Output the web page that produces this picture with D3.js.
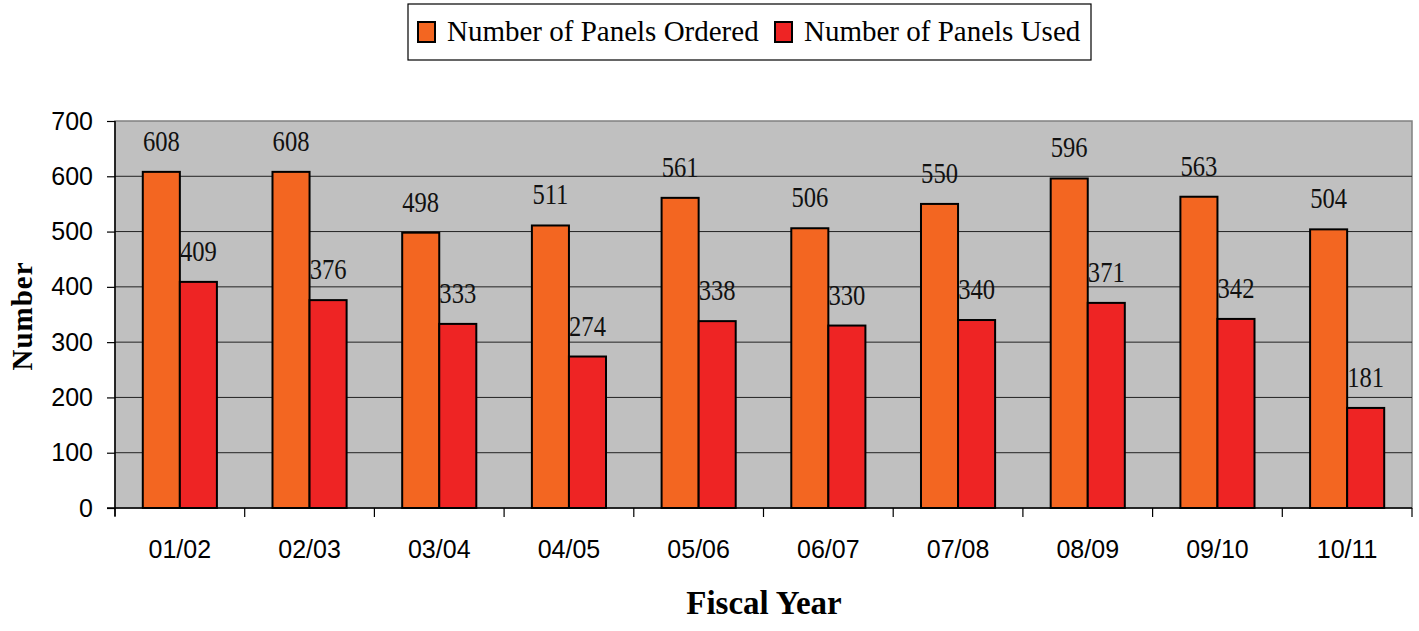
<!DOCTYPE html>
<html>
<head>
<meta charset="utf-8">
<script src="https://cdn.jsdelivr.net/npm/d3@7"></script>
<style>
  body { margin: 0; background: #fff; }
  svg { display: block; }
</style>
</head>
<body>
<svg width="1419" height="631" viewBox="0 0 1419 631"></svg>
<script>
const years = ["01/02", "02/03", "03/04", "04/05", "05/06", "06/07", "07/08", "08/09", "09/10", "10/11"];
const ordered = [608, 608, 498, 511, 561, 506, 550, 596, 563, 504];
const used = [409, 376, 333, 274, 338, 330, 340, 371, 342, 181];
const seriesNames = ["Number of Panels Ordered", "Number of Panels Used"];
const seriesColors = ["#f36621", "#ee2424"];
const yTicks = [0, 100, 200, 300, 400, 500, 600, 700];

const svg = d3.select("svg");
const plotLeft = 115, plotRight = 1412, plotTop = 121, plotBottom = 508;

const x0 = d3.scaleBand().domain(years).range([plotLeft, plotRight]).padding(0);
const x1 = d3.scaleBand().domain([0, 1]).range([0, x0.bandwidth()]).paddingInner(0).paddingOuter(0.75);
const y = d3.scaleLinear().domain([0, 700]).range([plotBottom, plotTop]);

// plot background
svg.append("rect")
    .attr("x", plotLeft).attr("y", plotTop)
    .attr("width", plotRight - plotLeft).attr("height", plotBottom - plotTop)
    .attr("fill", "#c0c0c0")
    .attr("stroke", "#808080").attr("stroke-width", 1.5);

// gridlines
svg.append("g").selectAll("line")
    .data(yTicks.filter(d => d > 0 && d < 700))
    .enter().append("line")
    .attr("x1", plotLeft).attr("x2", plotRight)
    .attr("y1", d => y(d)).attr("y2", d => y(d))
    .attr("stroke", "#222").attr("stroke-width", 1);

// bars
const rows = years.map((yr, i) => ({ year: yr, values: [ordered[i], used[i]] }));
const groups = svg.append("g").selectAll("g")
    .data(rows).enter().append("g")
    .attr("transform", d => `translate(${x0(d.year)},0)`);

groups.selectAll("rect")
    .data(d => d.values.map((v, k) => ({ k, v })))
    .enter().append("rect")
    .attr("x", d => x1(d.k))
    .attr("y", d => y(d.v))
    .attr("width", x1.bandwidth())
    .attr("height", d => y(0) - y(d.v))
    .attr("fill", d => seriesColors[d.k])
    .attr("stroke", "#000").attr("stroke-width", 2);

groups.selectAll("text")
    .data(d => d.values.map((v, k) => ({ k, v })))
    .enter().append("text")
    .attr("transform", d => `translate(${x1(d.k) + x1.bandwidth() / 2},${y(d.v) - 21}) scale(0.82,1)`)
    .attr("text-anchor", "middle")
    .style("font-family", "'Liberation Serif', 'Times New Roman', serif")
    .style("font-size", "30px")
    .attr("fill", "#111")
    .text(d => d.v);

// y axis
const yAxis = d3.axisLeft(y).tickValues(yTicks).tickSize(8).tickPadding(14);
const gy = svg.append("g").attr("transform", `translate(${plotLeft},0)`).call(yAxis);
gy.select(".domain").attr("stroke", "#000").attr("stroke-width", 1.5).attr("d", `M0,${plotTop}V${plotBottom + 8}`);
gy.selectAll(".tick line").attr("stroke", "#000").attr("stroke-width", 1.2);
gy.selectAll(".tick text")
    .style("font-family", "'Liberation Sans', Arial, sans-serif")
    .style("font-size", "25px").attr("fill", "#000");

// x axis
const gx = svg.append("g").attr("transform", `translate(0,${plotBottom})`);
gx.append("line").attr("x1", plotLeft - 8).attr("x2", plotRight)
    .attr("stroke", "#000").attr("stroke-width", 1.5);
gx.selectAll(".tk")
    .data(years.map(d => x0(d)).concat([plotRight]))
    .enter().append("line")
    .attr("x1", d => d).attr("x2", d => d)
    .attr("y1", 0).attr("y2", 9)
    .attr("stroke", "#000").attr("stroke-width", 1.2);
gx.selectAll("text")
    .data(years).enter().append("text")
    .attr("x", d => x0(d) + x0.bandwidth() / 2)
    .attr("y", 50)
    .attr("text-anchor", "middle")
    .style("font-family", "'Liberation Sans', Arial, sans-serif")
    .style("font-size", "25px")
    .text(d => d);

// axis titles
svg.append("text")
    .attr("x", 764).attr("y", 614)
    .attr("text-anchor", "middle")
    .style("font-family", "'Liberation Serif', 'Times New Roman', serif")
    .style("font-size", "33px").style("font-weight", "bold")
    .text("Fiscal Year");

svg.append("text")
    .attr("transform", "translate(32,316) rotate(-90)")
    .attr("text-anchor", "middle")
    .style("font-family", "'Liberation Serif', 'Times New Roman', serif")
    .style("font-size", "29px").style("font-weight", "bold")
    .attr("letter-spacing", "1")
    .text("Number");

// legend
const legend = svg.append("g");
legend.append("rect")
    .attr("x", 408).attr("y", 4).attr("width", 683).attr("height", 56)
    .attr("fill", "#fff").attr("stroke", "#000").attr("stroke-width", 1.2);
const legendX = [418, 775];
seriesNames.forEach((name, i) => {
    legend.append("rect")
        .attr("x", legendX[i]).attr("y", 22).attr("width", 17).attr("height", 20)
        .attr("fill", seriesColors[i]).attr("stroke", "#000").attr("stroke-width", 2);
    legend.append("text")
        .attr("x", legendX[i] + 29).attr("y", 41)
        .style("font-family", "'Liberation Serif', 'Times New Roman', serif")
        .style("font-size", "29px")
        .text(name);
});
</script>
</body>
</html>
